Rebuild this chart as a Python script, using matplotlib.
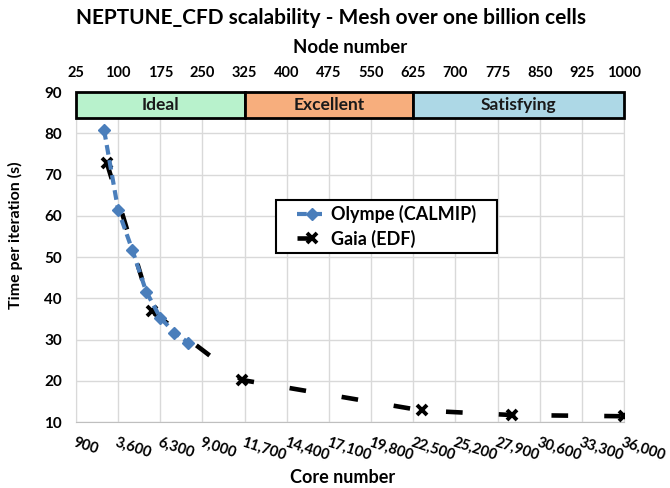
# NEPTUNE_CFD scalability chart
# time per iteration vs core / node count, with a quality band on top

import matplotlib
matplotlib.use('Agg')
import matplotlib.pyplot as plt
from matplotlib.patches import Rectangle
from matplotlib.ticker import FuncFormatter

plt.rcParams['font.family'] = ['Lato', 'DejaVu Sans']
plt.rcParams['font.weight'] = 'bold'
plt.rcParams['lines.scale_dashes'] = False

CORES_PER_NODE = 36

# measured runs (node counts, seconds per iteration)
olympe_nodes = [75, 100, 125, 150, 175, 200, 225]
olympe_time = [80.8, 61.4, 51.8, 41.6, 35.3, 31.7, 29.2]

gaia_nodes = [80, 160, 320, 640, 800, 1000]
gaia_time = [72.8, 36.8, 20.2, 12.8, 11.7, 11.4]

# efficiency zones along the node axis
band_labels = ['Ideal', 'Excellent', 'Satisfying']
band_edges = [25, 325, 625, 1000]
band_colors = ['#b8f2cc', '#f7ae7d', '#add8e6']

core_ticks = list(range(900, 36001, 2700))
node_ticks = list(range(25, 1001, 75))
y_ticks = list(range(10, 91, 10))

fig = plt.figure(figsize=(6.7, 4.88), dpi=100)
ax = fig.add_axes([0.1134, 0.1352, 0.8179, 0.6762])

olympe_cores = [n * CORES_PER_NODE for n in olympe_nodes]
gaia_cores = [n * CORES_PER_NODE for n in gaia_nodes]

ax.plot(gaia_cores, gaia_time, color='black', lw=3.3,
        linestyle=(0, (12, 26)), marker='x', ms=7.5, mew=2.8,
        label='Gaia (EDF)', zorder=3)
ax.plot(olympe_cores, olympe_time, color='#4a7ebb', lw=3,
        linestyle=(0, (7, 4)), marker='D', ms=6.5,
        label='Olympe (CALMIP)', zorder=4)

# quality band
band_lo, band_hi = 83.7, 90
for lab, c, x0, x1 in zip(band_labels, band_colors, band_edges[:-1], band_edges[1:]):
    ax.add_patch(Rectangle((x0 * CORES_PER_NODE, band_lo),
                           (x1 - x0) * CORES_PER_NODE, band_hi - band_lo,
                           facecolor=c, edgecolor='black', lw=2, zorder=5,
                           clip_on=False))
    ax.text((x0 + x1) / 2 * CORES_PER_NODE, (band_lo + band_hi) / 2, lab,
            ha='center', va='center', fontsize=12.5, fontweight='bold',
            color='#1a1a1a', zorder=6)

ax.set_xlim(900, 36000)
ax.set_ylim(10, 90)
ax.set_xticks(core_ticks)
ax.set_yticks(y_ticks)
ax.xaxis.set_major_formatter(FuncFormatter(lambda v, p: f'{int(v):,}'))
ax.grid(True, color='#d9d9d9', lw=1)
ax.set_axisbelow(True)
for s in ax.spines.values():
    s.set_color('#d9d9d9')
ax.spines['bottom'].set_color('#bfbfbf')
ax.tick_params(length=0)
ax.tick_params(axis='y', pad=10, labelsize=11)
ax.tick_params(axis='x', pad=10, labelsize=10.5)
for t in ax.get_xticklabels():
    t.set_rotation(-18)
    t.set_ha('left')
    t.set_rotation_mode('anchor')

ax.set_ylabel('Time per iteration (s)', fontsize=11.5, fontweight='bold')
ax.yaxis.set_label_coords(-0.097, 0.567)
ax.set_xlabel('Core number', fontsize=13, fontweight='bold')
ax.xaxis.set_label_coords(0.486, -0.142)

top = ax.secondary_xaxis('top', functions=(lambda c: c / CORES_PER_NODE,
                                           lambda n: n * CORES_PER_NODE))
top.set_xticks(node_ticks)
top.tick_params(length=0, labelsize=10.5, pad=9)
for s in top.spines.values():
    s.set_visible(False)
top.set_xlabel('Node number', fontsize=13.4, fontweight='bold', labelpad=9)

# legend: frame drawn by hand so the entries sit centred in a wide box
ax.add_patch(Rectangle((0.365, 0.512), 0.403, 0.161, transform=ax.transAxes,
                       facecolor='white', edgecolor='black', lw=1.5, zorder=7))
leg = ax.legend(handles=ax.get_lines()[::-1], loc='center',
                bbox_to_anchor=(0.5666, 0.5924), frameon=False, fontsize=13,
                handlelength=1.7, handletextpad=0.2, borderpad=0.2,
                labelspacing=0.35)
leg.set_zorder(8)

fig.text(0.494, 0.963, 'NEPTUNE_CFD scalability - Mesh over one billion cells',
         ha='center', va='center', fontsize=15, fontweight='bold')

fig.savefig('out.png', dpi=100)
